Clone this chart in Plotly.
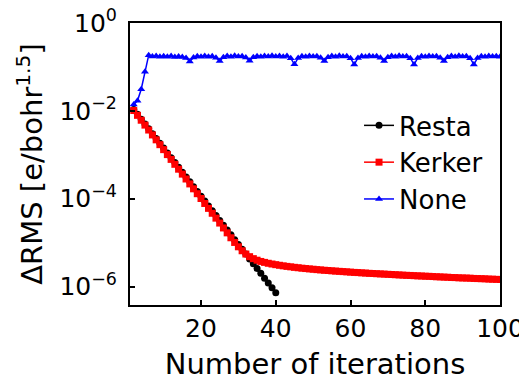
import plotly.graph_objects as go

# ---------------- data ----------------
resta_iter = list(range(2, 41))
resta_rms = [
    1.07e-2, 8.32e-3, 6.47e-3, 5.02e-3, 3.90e-3, 3.03e-3, 2.35e-3, 1.83e-3, 1.42e-3, 1.10e-3,
    8.57e-4, 6.65e-4, 5.17e-4, 4.02e-4, 3.12e-4, 2.42e-4, 1.88e-4, 1.46e-4, 1.14e-4, 8.83e-5,
    6.86e-5, 5.33e-5, 4.14e-5, 3.21e-5, 2.49e-5, 1.94e-5, 1.51e-5, 1.17e-5, 9.08e-6, 7.06e-6,
    5.48e-6, 4.26e-6, 3.31e-6, 2.57e-6, 2.00e-6, 1.55e-6, 1.20e-6, 9.35e-7, 7.26e-7,
]

kerker_iter = list(range(2, 101))
kerker_rms = [
    1.02e-2, 7.91e-3, 6.12e-3, 4.74e-3, 3.66e-3, 2.83e-3, 2.19e-3, 1.70e-3, 1.31e-3, 1.01e-3,
    7.85e-4, 6.07e-4, 4.70e-4, 3.63e-4, 2.81e-4, 2.17e-4, 1.68e-4, 1.30e-4, 1.01e-4, 7.79e-5,
    6.03e-5, 4.66e-5, 3.61e-5, 2.79e-5, 2.16e-5, 1.67e-5, 1.29e-5, 1.01e-5, 8.04e-6, 6.53e-6,
    5.50e-6, 4.79e-6, 4.32e-6, 3.98e-6, 3.73e-6, 3.55e-6, 3.39e-6, 3.26e-6, 3.15e-6, 3.05e-6,
    2.96e-6, 2.88e-6, 2.81e-6, 2.74e-6, 2.68e-6, 2.62e-6, 2.57e-6, 2.52e-6, 2.48e-6, 2.43e-6,
    2.39e-6, 2.35e-6, 2.32e-6, 2.28e-6, 2.25e-6, 2.22e-6, 2.19e-6, 2.16e-6, 2.13e-6, 2.10e-6,
    2.08e-6, 2.05e-6, 2.03e-6, 2.00e-6, 1.98e-6, 1.96e-6, 1.94e-6, 1.92e-6, 1.90e-6, 1.88e-6,
    1.86e-6, 1.84e-6, 1.82e-6, 1.80e-6, 1.79e-6, 1.77e-6, 1.75e-6, 1.74e-6, 1.72e-6, 1.71e-6,
    1.69e-6, 1.67e-6, 1.66e-6, 1.64e-6, 1.63e-6, 1.61e-6, 1.60e-6, 1.58e-6, 1.57e-6, 1.56e-6,
    1.55e-6, 1.53e-6, 1.52e-6, 1.51e-6, 1.50e-6, 1.48e-6, 1.47e-6, 1.46e-6, 1.45e-6,
]

none_iter = list(range(2, 101))
none_rms = [
    0.014, 0.017, 0.031, 0.078, 0.185, 0.172, 0.178, 0.170, 0.176, 0.171,
    0.177, 0.169, 0.174, 0.168, 0.160, 0.133, 0.165, 0.176, 0.170, 0.178,
    0.171, 0.175, 0.162, 0.137, 0.166, 0.177, 0.171, 0.179, 0.172, 0.176,
    0.163, 0.139, 0.167, 0.176, 0.170, 0.178, 0.172, 0.180, 0.173, 0.177,
    0.171, 0.178, 0.158, 0.115, 0.160, 0.175, 0.170, 0.178, 0.172, 0.176,
    0.162, 0.137, 0.166, 0.177, 0.171, 0.179, 0.172, 0.176, 0.158, 0.114,
    0.160, 0.176, 0.170, 0.178, 0.172, 0.176, 0.162, 0.137, 0.166, 0.177,
    0.171, 0.179, 0.172, 0.176, 0.158, 0.114, 0.160, 0.176, 0.170, 0.178,
    0.172, 0.176, 0.162, 0.137, 0.166, 0.177, 0.171, 0.179, 0.172, 0.176,
    0.158, 0.114, 0.160, 0.176, 0.170, 0.178, 0.172, 0.176, 0.171,
]

x_ticks = [20, 40, 60, 80, 100]
y_tickvals = [1e0, 1e-2, 1e-4, 1e-6]
y_ticktext = ["10<sup>0</sup>", "10<sup>−2</sup>", "10<sup>−4</sup>", "10<sup>−6</sup>"]

FONT = "DejaVu Sans"

fig = go.Figure()
fig.add_trace(go.Scatter(
    x=resta_iter, y=resta_rms, name="Resta", mode="lines+markers", legendgroup="a",
    line=dict(color="black", width=1.5), marker=dict(symbol="circle", size=7, color="black"),
))
fig.add_trace(go.Scatter(
    x=kerker_iter, y=kerker_rms, name="Kerker", mode="lines+markers", legendgroup="b",
    line=dict(color="red", width=1.5), marker=dict(symbol="square", size=7, color="red"),
))
fig.add_trace(go.Scatter(
    x=none_iter, y=none_rms, name="None", mode="lines+markers", legendgroup="c",
    line=dict(color="blue", width=1.5), marker=dict(symbol="triangle-up", size=7, color="blue"),
))

# the page body adds an 8px offset, so the figure is 8px smaller and margins shifted
fig.update_layout(
    width=519, height=373,
    margin=dict(l=122, r=27, t=15, b=76, autoexpand=False),
    paper_bgcolor="white", plot_bgcolor="white",
    font=dict(family=FONT, color="black", size=25),
    showlegend=True,
    legend=dict(
        x=0.619, y=0.72, xanchor="left", yanchor="top",
        bgcolor="rgba(0,0,0,0)", borderwidth=0,
        font=dict(family=FONT, size=26, color="black"),
        tracegroupgap=0,
    ),
    xaxis=dict(
        range=[1, 100], tickvals=x_ticks, ticks="inside", ticklen=5, tickwidth=1.5,
        tickcolor="black", showline=True, linecolor="black", linewidth=2, mirror=True,
        showgrid=False, zeroline=False, tickfont=dict(size=25), automargin=False,
        ticklabeloverflow="allow",
        title=dict(text="Number of iterations", font=dict(size=29), standoff=35),
    ),
    yaxis=dict(
        type="log", range=[-6.42, 0.0005], tickvals=y_tickvals, ticktext=y_ticktext,
        ticks="inside", ticklen=5, tickwidth=1.5, tickcolor="black",
        showline=True, linecolor="black", linewidth=2, mirror=True, automargin=False,
        showgrid=False, zeroline=False, tickfont=dict(size=25), ticklabelstandoff=6,
        ticklabeloverflow="allow",
        title=dict(text="ΔRMS [e/bohr<sup>1.5</sup>]", font=dict(size=29), standoff=8),
    ),
)

fig.write_html("out.html")
